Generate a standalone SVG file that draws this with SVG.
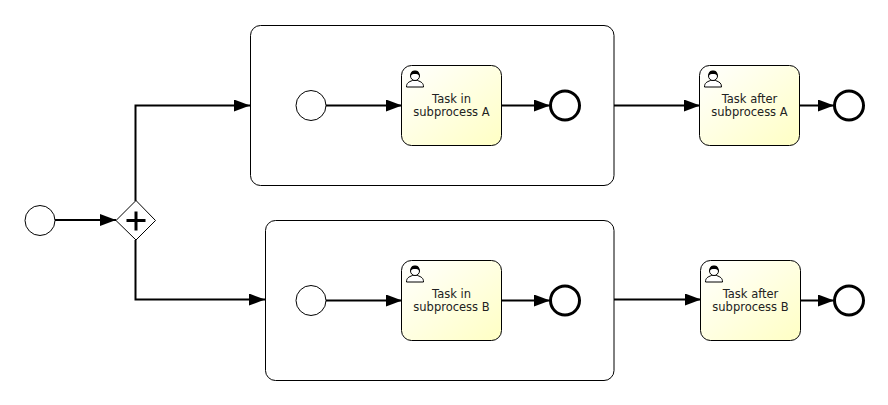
<svg xmlns="http://www.w3.org/2000/svg" width="888" height="405" viewBox="0 0 888 405">
<style>
.sub{fill:#fff;stroke:#000;stroke-width:1}
.task{fill:url(#yg);stroke:#000;stroke-width:1}
.start{fill:#fff;stroke:#000;stroke-width:1}
.end{fill:#fff;stroke:#000;stroke-width:3}
.flow{fill:none;stroke:#000;stroke-width:2;marker-end:url(#arrow)}
.lbl{font-family:"DejaVu Sans",sans-serif;font-size:11.5px;fill:#222;text-anchor:middle}
</style>
<defs>
<linearGradient id="yg" x1="0" y1="0" x2="1" y2="1"><stop offset="0" stop-color="#fff"/><stop offset="1" stop-color="#ffffc4"/></linearGradient>
<marker id="arrow" markerUnits="userSpaceOnUse" markerWidth="17" markerHeight="12" refX="16" refY="6" orient="auto"><path d="M0 0L16 6L0 12Z" fill="#000"/></marker>
<g id="user">
<path d="M1 17C1 13 3 12 7 10.500L12 10.500C16 12 18 13 18 17Z" fill="#fff" stroke="#000" stroke-width="1"/>
<circle cx="9.500" cy="6" r="4.500" fill="#fff" stroke="#000" stroke-width="1"/>
<path d="M5 6.500C4.500 1.500 7 0.500 9.500 0.500C12 0.500 14.500 1.500 14 6.500C13 4 11 4 9.500 4C8 4 6 4 5 6.500Z" fill="#000"/>
</g>
</defs>
<g id="subprocessA"><rect class="sub" x="250.500" y="25.500" width="363.500" height="160" rx="10"/></g>
<g id="subprocessB"><rect class="sub" x="265.500" y="220.500" width="348.500" height="160" rx="10"/></g>
<g id="connectors">
<path class="flow" d="M55 220H116"/>
<path class="flow" d="M135.500 201V105.500H250"/>
<path class="flow" d="M135.500 240V299.500H265"/>
<path class="flow" d="M326 105.500H402"/>
<path class="flow" d="M501 105.500H550"/>
<path class="flow" d="M614 105.500H700"/>
<path class="flow" d="M799 105.500H834"/>
<path class="flow" d="M326 300.500H402"/>
<path class="flow" d="M501 300.500H550"/>
<path class="flow" d="M614 299.500H701"/>
<path class="flow" d="M801 300.500H834"/>
</g>
<g id="start"><circle class="start" cx="40" cy="220.500" r="15"/></g>
<g id="gateway"><path d="M136 200.500L155.500 220.500L136 240L116 220.500Z" fill="#fff" stroke="#000"/><path d="M136 211.500V230.500M126.500 220.500H145.500" stroke="#000" stroke-width="3" fill="none"/></g>
<g id="startA"><circle class="start" cx="311" cy="105.500" r="15"/></g>
<g id="startB"><circle class="start" cx="311" cy="300.500" r="15"/></g>
<g id="taskA"><rect class="task" x="401.500" y="65.500" width="100" height="80" rx="10"/><use href="#user" x="405.500" y="70"/><text class="lbl" x="451.500" y="103">Task in</text><text class="lbl" x="451.500" y="116">subprocess A</text></g>
<g id="taskB"><rect class="task" x="401.500" y="260.500" width="100" height="80" rx="10"/><use href="#user" x="405.500" y="265"/><text class="lbl" x="451.500" y="298">Task in</text><text class="lbl" x="451.500" y="311">subprocess B</text></g>
<g id="endA"><circle class="end" cx="565" cy="105.500" r="14.500"/></g>
<g id="endB"><circle class="end" cx="565" cy="300.500" r="14.500"/></g>
<g id="afterA"><rect class="task" x="699.500" y="65.500" width="100" height="80" rx="10"/><use href="#user" x="703.500" y="70"/><text class="lbl" x="749.500" y="103">Task after</text><text class="lbl" x="749.500" y="116">subprocess A</text></g>
<g id="afterB"><rect class="task" x="700.500" y="260.500" width="100" height="80" rx="10"/><use href="#user" x="704.500" y="265"/><text class="lbl" x="750.500" y="298">Task after</text><text class="lbl" x="750.500" y="311">subprocess B</text></g>
<g id="endAfterA"><circle class="end" cx="849" cy="105.500" r="14.500"/></g>
<g id="endAfterB"><circle class="end" cx="849" cy="300.500" r="14.500"/></g>
</svg>
